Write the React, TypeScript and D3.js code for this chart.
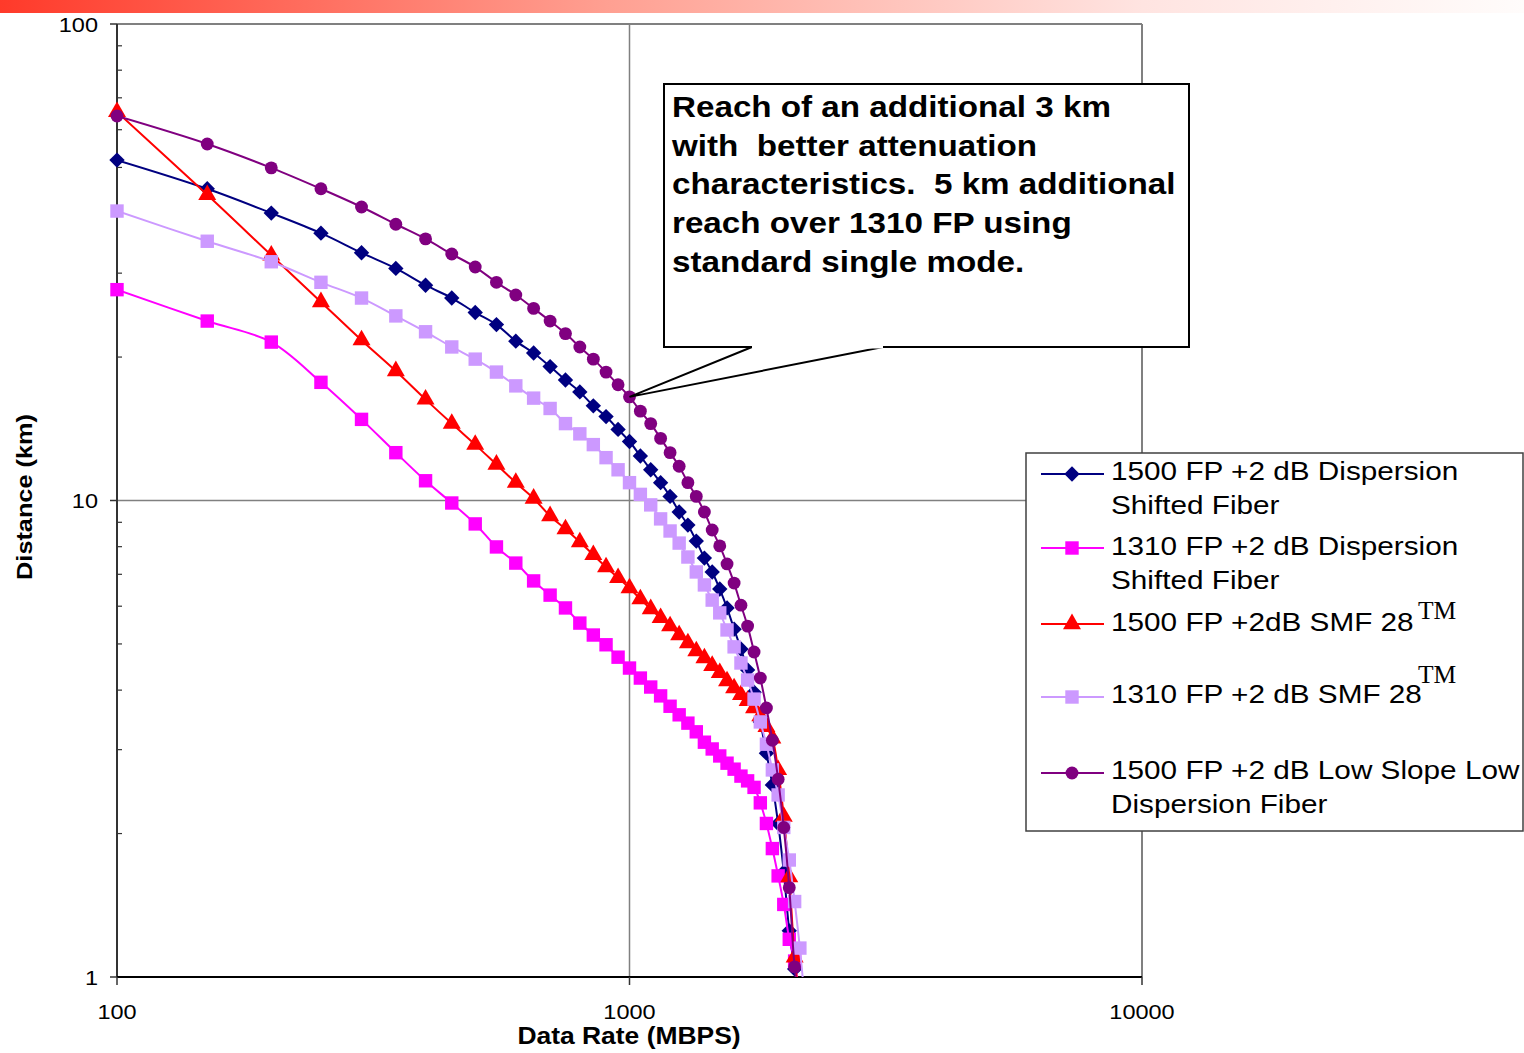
import React from 'react';
import * as d3 from 'd3';

// data rate (MBPS) at which each series was sampled
const rates = [
  100, 150, 200, 250, 300, 350, 400, 450, 500, 550, 600, 650, 700, 750, 800,
  850, 900, 950, 1000, 1050, 1100, 1150, 1200, 1250, 1300, 1350, 1400, 1450,
  1500, 1550, 1600, 1650, 1700, 1750, 1800, 1850, 1900, 1950, 2000, 2050,
  2100, 2150, 2200,
];

// distance (km) per series
const dsf1500 = [
  51.8, 45.1, 40.1, 36.4, 33.1, 30.7, 28.3, 26.6, 24.8, 23.4, 21.6, 20.4, 19.1,
  17.9, 16.9, 15.8, 15.0, 14.1, 13.3, 12.4, 11.6, 10.9, 10.2, 9.46, 8.88, 8.22,
  7.57, 7.08, 6.52, 5.95, 5.37, 4.88, 4.41, 3.96, 3.43, 2.95, 2.53, 2.1, 1.66,
  1.25, 1.04, 0.87,
];
const dsf1310 = [
  27.7, 23.8, 21.5, 17.7, 14.8, 12.6, 11.0, 9.88, 8.93, 7.99, 7.39, 6.78, 6.33,
  5.95, 5.53, 5.22, 4.98, 4.69, 4.45, 4.24, 4.06, 3.89, 3.7, 3.55, 3.41, 3.27,
  3.11, 3.01, 2.91, 2.81, 2.73, 2.64, 2.58, 2.5, 2.32, 2.1, 1.86, 1.63, 1.42,
  1.2, 1.08, 0.85,
];
const smf1500 = [
  65.4, 43.8, 32.7, 26.1, 21.7, 18.7, 16.3, 14.5, 13.1, 11.9, 10.9, 10.1, 9.28,
  8.71, 8.18, 7.69, 7.25, 6.88, 6.55, 6.21, 5.92, 5.67, 5.45, 5.22, 5.02, 4.83,
  4.67, 4.5, 4.35, 4.18, 4.04, 3.91, 3.8, 3.67, 3.53, 3.35, 3.17, 2.72, 2.17,
  1.62, 1.1, 0.88,
];
const smf1310 = [
  40.5, 35.0, 31.7, 28.7, 26.6, 24.4, 22.6, 21.0, 19.8, 18.6, 17.4, 16.4, 15.6,
  14.5, 13.8, 13.1, 12.3, 11.6, 10.9, 10.3, 9.79, 9.15, 8.63, 8.14, 7.61, 7.08,
  6.65, 6.18, 5.81, 5.35, 4.93, 4.56, 4.2, 3.83, 3.43, 3.08, 2.72, 2.41, 2.06,
  1.76, 1.44, 1.15, 0.88,
];
const lowSlope1500 = [
  64.1, 56.0, 49.9, 45.1, 41.3, 38.0, 35.4, 32.9, 30.9, 28.7, 27.0, 25.3, 23.8,
  22.4, 21.0, 19.8, 18.6, 17.5, 16.5, 15.4, 14.5, 13.5, 12.6, 11.8, 10.9, 10.2,
  9.46, 8.67, 8.03, 7.36, 6.71, 6.03, 5.45, 4.81, 4.24, 3.67, 3.14, 2.6, 2.06,
  1.54, 1.05, 0.87,
];

const xTicks = [100, 1000, 10000];
const yTicks = [1, 10, 100];
const yMinor = [2, 3, 4, 5, 6, 7, 8, 9, 20, 30, 40, 50, 60, 70, 80, 90];

const series = [
  { label: ['1500 FP +2 dB Dispersion', 'Shifted Fiber'], tm: false, values: dsf1500, color: '#000080', marker: 'diamond' },
  { label: ['1310 FP +2 dB Dispersion', 'Shifted Fiber'], tm: false, values: dsf1310, color: '#ff00ff', marker: 'square' },
  { label: ['1500 FP +2dB SMF 28'], tm: true, values: smf1500, color: '#ff0000', marker: 'triangle' },
  { label: ['1310 FP +2 dB SMF 28'], tm: true, values: smf1310, color: '#cc99ff', marker: 'square' },
  { label: ['1500 FP +2 dB Low Slope Low', 'Dispersion Fiber'], tm: false, values: lowSlope1500, color: '#800080', marker: 'circle' },
];

const note = [
  'Reach of an additional 3 km',
  'with  better attenuation',
  'characteristics.  5 km additional',
  'reach over 1310 FP using',
  'standard single mode.',
];

const W = 1524;
const H = 1053;
const plot = { left: 117, right: 1142, top: 24, bottom: 977 };
const sans = '"Liberation Sans", Arial, Helvetica, sans-serif';
const serif = '"Liberation Serif", "Times New Roman", serif';

const markerPath = (m: string) => {
  if (m === 'diamond') return d3.symbol(d3.symbolSquare, 118)();
  if (m === 'square') return d3.symbol(d3.symbolSquare, 180)();
  if (m === 'triangle') return d3.symbol(d3.symbolTriangle, 140)();
  return d3.symbol(d3.symbolCircle, 130)();
};

const Marker = ({ m, x, y, color }: { m: string; x: number; y: number; color: string }) => (
  <path
    d={markerPath(m) || ''}
    transform={`translate(${x},${y})${m === 'diamond' ? ' rotate(45)' : ''}`}
    fill={color}
  />
);

// text in the original is somewhat wider than Arial
const WideText = ({ x, y, sx = 1.15, anchor = 'start', size, bold = false, rotate = 0, children }: any) => (
  <text
    transform={`translate(${x},${y})${rotate ? ` rotate(${rotate})` : ''} scale(${sx},1)`}
    textAnchor={anchor}
    fontFamily={sans}
    fontSize={size}
    fontWeight={bold ? 'bold' : 'normal'}
    fill="#000"
    style={{ whiteSpace: 'pre' }}
  >
    {children}
  </text>
);

export default function App() {
  const x = d3.scaleLog().domain([100, 10000]).range([plot.left, plot.right]);
  const y = d3.scaleLog().domain([1, 100]).range([plot.bottom, plot.top]);

  const line = d3
    .line<[number, number]>()
    .x((d) => x(d[0]))
    .y((d) => y(d[1]))
    .curve(d3.curveCatmullRom.alpha(0.5));

  const pointer: [number, number] = [x(1000), y(lowSlope1500[rates.indexOf(1000)])];

  const legendSym = [474, 548, 624, 697, 773];
  const legendBase = [480, 555, 631, 703, 779];
  const tmBase = [0, 0, 619, 683, 0];

  return (
    <svg width={W} height={H} style={{ position: 'absolute', left: 0, top: 0, background: '#fff' }}>
      <defs>
        <linearGradient id="topbar" x1="0" x2="1" y1="0" y2="0">
          <stop offset="0" stopColor="#ff3a2a" />
          <stop offset="0.4" stopColor="#ffa092" />
          <stop offset="0.75" stopColor="#ffe4e1" />
          <stop offset="1" stopColor="#fffcfb" />
        </linearGradient>
        <clipPath id="plotclip">
          <rect x={plot.left} y={plot.top} width={plot.right - plot.left} height={plot.bottom - plot.top} />
        </clipPath>
      </defs>
      <rect x={0} y={0} width={W} height={13} fill="url(#topbar)" />

      {/* grid */}
      <line x1={x(1000)} x2={x(1000)} y1={plot.top} y2={plot.bottom} stroke="#808080" strokeWidth={1.5} />
      <line x1={plot.left} x2={plot.right} y1={y(10)} y2={y(10)} stroke="#808080" strokeWidth={1.5} />
      <line x1={plot.left} x2={plot.right} y1={plot.top} y2={plot.top} stroke="#808080" strokeWidth={2} />
      <line x1={plot.right} x2={plot.right} y1={plot.top} y2={plot.bottom} stroke="#808080" strokeWidth={2} />

      {/* axes */}
      <line x1={plot.left} x2={plot.left} y1={plot.top} y2={plot.bottom} stroke="#333" strokeWidth={2} />
      <line x1={plot.left} x2={plot.right} y1={plot.bottom} y2={plot.bottom} stroke="#000" strokeWidth={2} />
      {yTicks.map((t) => (
        <g key={t}>
          <line x1={plot.left - 7} x2={plot.left} y1={y(t)} y2={y(t)} stroke="#333" strokeWidth={1.5} />
          <WideText x={98} y={y(t) + 7.5} anchor="end" size={21} sx={1.12}>
            {t}
          </WideText>
        </g>
      ))}
      {yMinor.map((t) => (
        <line key={t} x1={plot.left} x2={plot.left + 5} y1={y(t)} y2={y(t)} stroke="#333" strokeWidth={1.2} />
      ))}
      {xTicks.map((t) => (
        <g key={t}>
          <line x1={x(t)} x2={x(t)} y1={plot.bottom} y2={plot.bottom + 8} stroke="#333" strokeWidth={1.5} />
          <WideText x={x(t)} y={1019} anchor="middle" size={21} sx={1.12}>
            {t}
          </WideText>
        </g>
      ))}
      <WideText x={629} y={1044} anchor="middle" size={23} bold>
        Data Rate (MBPS)
      </WideText>
      <WideText x={32} y={497} anchor="middle" size={22} bold rotate={-90}>
        Distance (km)
      </WideText>

      {/* series: lines clipped to the plot, markers only for points inside the range */}
      {series.map((s, i) => {
        const pts = s.values.map((v, j) => [rates[j], v] as [number, number]);
        return (
          <g key={i}>
            <path d={line(pts) || ''} fill="none" stroke={s.color} strokeWidth={2} clipPath="url(#plotclip)" />
            {pts
              .filter((p) => p[1] >= 1)
              .map((p, j) => (
                <Marker key={j} m={s.marker} x={x(p[0])} y={y(p[1])} color={s.color} />
              ))}
          </g>
        );
      })}

      {/* callout */}
      <path
        d={`M752,347 L${pointer[0]},${pointer[1]} L883,347 L1189,347 L1189,84 L664,84 L664,347 Z`}
        fill="#fff"
        stroke="#000"
        strokeWidth={2}
        strokeLinejoin="miter"
      />
      <line x1={752} x2={883} y1={347} y2={347} stroke="#fff" strokeWidth={3} />
      <line x1={664} x2={752} y1={347} y2={347} stroke="#000" strokeWidth={2} />
      <line x1={883} x2={1189} y1={347} y2={347} stroke="#000" strokeWidth={2} />
      {note.map((t, i) => (
        <WideText key={i} x={672} y={117 + i * 38.7} size={29} bold sx={1.145}>
          {t}
        </WideText>
      ))}

      {/* legend */}
      <rect x={1026} y={453} width={497} height={378} fill="#fff" stroke="#404040" strokeWidth={1.5} />
      {series.map((s, i) => (
        <g key={i}>
          <line x1={1041} x2={1104} y1={legendSym[i]} y2={legendSym[i]} stroke={s.color} strokeWidth={2} />
          <Marker m={s.marker} x={1072} y={legendSym[i]} color={s.color} />
          {s.label.map((l, k) => (
            <WideText key={k} x={1111} y={legendBase[i] + k * 34} size={25.5} sx={1.166}>
              {l}
            </WideText>
          ))}
          {s.tm && (
            <text x={1418} y={tmBase[i]} fontFamily={serif} fontSize={25.5} fill="#000">
              TM
            </text>
          )}
        </g>
      ))}
    </svg>
  );
}
